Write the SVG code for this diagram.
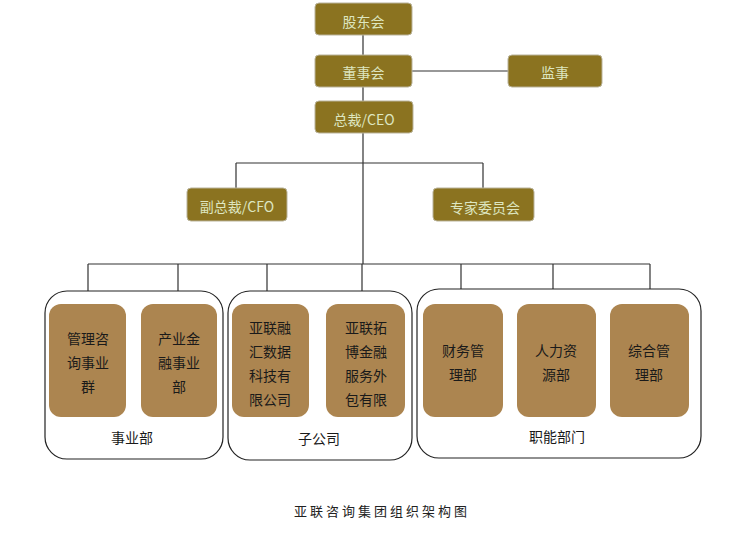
<svg xmlns="http://www.w3.org/2000/svg" width="756" height="541" viewBox="0 0 756 541">
<style>
.top{fill:#8B7320;stroke:#b9b39a;stroke-width:1}
.tt{fill:#DDE6C0;font-family:"Noto Sans CJK SC","Noto Sans",sans-serif;font-size:14px;text-anchor:middle;dominant-baseline:central}
.grp{fill:#fff;stroke:#222;stroke-width:1.2}
.inn{fill:#AC8550;stroke:none}
.it{fill:#1a1a1a;font-family:"Noto Sans CJK SC","Noto Sans",sans-serif;font-size:14px;text-anchor:middle;dominant-baseline:central}
.gt{fill:#1a1a1a;font-family:"Noto Sans CJK SC","Noto Sans",sans-serif;font-size:14px;text-anchor:middle;dominant-baseline:central}
.ln{stroke:#333;stroke-width:1.2;fill:none}
</style>
<rect width="756" height="541" fill="#fff"/>
<g id="connectors">
<path class="ln" d="M363 35V101M412 71H508M363 133V264M236 163H483M236 163V188M483 163V188M88 264H650M88 264V304M178 264V304M267 264V304M362 264V304M461 264V304M553 264V304M650 264V304"/>
</g>
<g id="group-shiyebu"><rect class="grp" x="45" y="291" width="178" height="168" rx="22"/><text class="gt" x="132" y="437">事业部</text></g>
<g id="group-zigongsi"><rect class="grp" x="228" y="291" width="184" height="169" rx="22"/><text class="gt" x="319" y="438">子公司</text></g>
<g id="group-zhineng"><rect class="grp" x="417" y="289" width="284" height="169" rx="22"/><text class="gt" x="557" y="436">职能部门</text></g>
<g id="n-gudonghui"><rect class="top" x="315" y="3" width="97" height="32" rx="4"/><text class="tt" x="363.5" y="21">股东会</text></g>
<g id="n-dongshihui"><rect class="top" x="315" y="55" width="97" height="32" rx="4"/><text class="tt" x="363.5" y="72">董事会</text></g>
<g id="n-jianshi"><rect class="top" x="508" y="55" width="94" height="32" rx="4"/><text class="tt" x="555" y="72">监事</text></g>
<g id="n-ceo"><rect class="top" x="315" y="101" width="98" height="32" rx="4"/><text class="tt" x="364" y="119">总裁/CEO</text></g>
<g id="n-cfo"><rect class="top" x="187" y="188" width="100" height="33" rx="4"/><text class="tt" x="237" y="206">副总裁/CFO</text></g>
<g id="n-zhuanjia"><rect class="top" x="433" y="188" width="101" height="33" rx="4"/><text class="tt" x="485" y="207">专家委员会</text></g>
<g id="n-guanli"><rect class="inn" x="49" y="304" width="77" height="113" rx="12"/><text class="it" x="88"><tspan x="88" y="338">管理咨</tspan><tspan x="88" y="362">询事业</tspan><tspan x="88" y="386">群</tspan></text></g>
<g id="n-chanye"><rect class="inn" x="141" y="304" width="76" height="113" rx="12"/><text class="it" x="179"><tspan x="179" y="338">产业金</tspan><tspan x="179" y="362">融事业</tspan><tspan x="179" y="386">部</tspan></text></g>
<g id="n-ronghui"><rect class="inn" x="232" y="304" width="77" height="113" rx="12"/><text class="it" x="270"><tspan x="270" y="327">亚联融</tspan><tspan x="270" y="351">汇数据</tspan><tspan x="270" y="375">科技有</tspan><tspan x="270" y="399">限公司</tspan></text></g>
<g id="n-tuobo"><rect class="inn" x="326" y="304" width="79" height="113" rx="12"/><text class="it" x="366"><tspan x="366" y="327">亚联拓</tspan><tspan x="366" y="351">博金融</tspan><tspan x="366" y="375">服务外</tspan><tspan x="366" y="399">包有限</tspan></text></g>
<g id="n-caiwu"><rect class="inn" x="423" y="304" width="80" height="113" rx="12"/><text class="it" x="463"><tspan x="463" y="350">财务管</tspan><tspan x="463" y="374">理部</tspan></text></g>
<g id="n-renli"><rect class="inn" x="517" y="304" width="79" height="113" rx="12"/><text class="it" x="556"><tspan x="556" y="350">人力资</tspan><tspan x="556" y="374">源部</tspan></text></g>
<g id="n-zonghe"><rect class="inn" x="610" y="304" width="79" height="113" rx="12"/><text class="it" x="649"><tspan x="649" y="350">综合管</tspan><tspan x="649" y="374">理部</tspan></text></g>
<text x="382" y="510" style="fill:#222;font-family:'Noto Sans CJK SC','Noto Sans',sans-serif;font-size:13px;text-anchor:middle;dominant-baseline:central;letter-spacing:3px">亚联咨询集团组织架构图</text>
</svg>
